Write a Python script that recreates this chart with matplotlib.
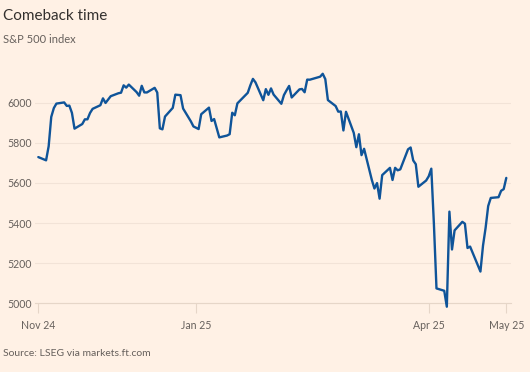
import matplotlib
matplotlib.use("Agg")
import matplotlib.pyplot as plt
import pandas as pd

# S&P 500 daily closes, Nov 2024 - May 2025
dates = [
    "2024-11-01", "2024-11-04", "2024-11-05", "2024-11-06", "2024-11-07", "2024-11-08",
    "2024-11-11", "2024-11-12", "2024-11-13", "2024-11-14", "2024-11-15",
    "2024-11-18", "2024-11-19", "2024-11-20", "2024-11-21", "2024-11-22",
    "2024-11-25", "2024-11-26", "2024-11-27", "2024-11-29",
    "2024-12-02", "2024-12-03", "2024-12-04", "2024-12-05", "2024-12-06",
    "2024-12-09", "2024-12-10", "2024-12-11", "2024-12-12", "2024-12-13",
    "2024-12-16", "2024-12-17", "2024-12-18", "2024-12-19", "2024-12-20",
    "2024-12-23", "2024-12-24", "2024-12-26", "2024-12-27",
    "2024-12-30", "2024-12-31", "2025-01-02", "2025-01-03",
    "2025-01-06", "2025-01-07", "2025-01-08", "2025-01-10",
    "2025-01-13", "2025-01-14", "2025-01-15", "2025-01-16", "2025-01-17",
    "2025-01-21", "2025-01-22", "2025-01-23", "2025-01-24",
    "2025-01-27", "2025-01-28", "2025-01-29", "2025-01-30", "2025-01-31",
    "2025-02-03", "2025-02-04", "2025-02-05", "2025-02-06", "2025-02-07",
    "2025-02-10", "2025-02-11", "2025-02-12", "2025-02-13", "2025-02-14",
    "2025-02-18", "2025-02-19", "2025-02-20", "2025-02-21",
    "2025-02-24", "2025-02-25", "2025-02-26", "2025-02-27", "2025-02-28",
    "2025-03-03", "2025-03-04", "2025-03-05", "2025-03-06", "2025-03-07",
    "2025-03-10", "2025-03-11", "2025-03-12", "2025-03-13", "2025-03-14",
    "2025-03-17", "2025-03-18", "2025-03-19", "2025-03-20", "2025-03-21",
    "2025-03-24", "2025-03-25", "2025-03-26", "2025-03-27", "2025-03-28",
    "2025-03-31", "2025-04-01", "2025-04-02", "2025-04-03", "2025-04-04",
    "2025-04-07", "2025-04-08", "2025-04-09", "2025-04-10", "2025-04-11",
    "2025-04-14", "2025-04-15", "2025-04-16", "2025-04-17",
    "2025-04-21", "2025-04-22", "2025-04-23", "2025-04-24", "2025-04-25",
    "2025-04-28", "2025-04-29", "2025-04-30", "2025-05-01",
]
closes = [
    5728.8, 5712.7, 5782.8, 5929.0, 5973.1, 5995.5,
    6001.4, 5984.0, 5985.4, 5949.2, 5870.6,
    5893.6, 5917.0, 5917.1, 5948.7, 5969.3,
    5987.4, 6021.6, 5998.7, 6032.4,
    6047.2, 6049.9, 6086.5, 6075.1, 6090.3,
    6052.9, 6034.9, 6084.2, 6051.3, 6051.1,
    6074.1, 6050.6, 5872.2, 5867.1, 5930.9,
    5974.1, 6040.0, 6037.6, 5970.8,
    5906.9, 5881.6, 5868.6, 5942.5,
    5975.4, 5909.0, 5918.3, 5827.0,
    5836.2, 5842.9, 5949.9, 5937.3, 5996.7,
    6049.2, 6086.4, 6118.7, 6101.2,
    6012.3, 6067.7, 6039.3, 6071.2, 6040.5,
    5994.6, 6037.9, 6061.5, 6083.6, 6026.0,
    6066.4, 6068.5, 6052.0, 6115.1, 6114.6,
    6129.6, 6144.2, 6117.5, 6013.1,
    5983.3, 5955.3, 5956.1, 5861.6, 5954.5,
    5849.7, 5778.2, 5842.6, 5738.5, 5770.2,
    5614.6, 5572.1, 5599.3, 5521.5, 5638.9,
    5675.1, 5614.7, 5675.3, 5662.9, 5667.6,
    5767.6, 5776.7, 5712.2, 5693.3, 5580.9,
    5611.9, 5633.1, 5671.0, 5396.5, 5074.1,
    5062.3, 4982.8, 5456.9, 5268.1, 5363.4,
    5406.0, 5396.6, 5275.7, 5282.7,
    5158.2, 5287.8, 5375.9, 5484.8, 5525.2,
    5528.8, 5560.8, 5569.1, 5625.0,
]

tick_dates = ["2024-11-01", "2025-01-01", "2025-04-01", "2025-05-01"]
tick_labels = ["Nov 24", "Jan 25", "Apr 25", "May 25"]
y_ticks = [5000, 5200, 5400, 5600, 5800, 6000]

bg = "#FFF1E5"
blue = "#0F5499"
grey = "#66605C"

plt.rcParams["font.family"] = ["Lato", "DejaVu Sans"]

fig = plt.figure(figsize=(5.3, 3.72), dpi=100, facecolor=bg)
ax = fig.add_axes([0.066, 0.1632, 0.898, 0.6524], facecolor=bg)

x = pd.to_datetime(dates)
ax.plot(x, closes, color=blue, lw=1.7, solid_joinstyle="round",
        solid_capstyle="round", zorder=3)

ax.set_xlim(pd.Timestamp("2024-10-30 17:00"), pd.Timestamp("2025-05-02 19:00"))
ax.set_ylim(4960, 6170)

ax.set_yticks(y_ticks)
ax.set_yticklabels([str(v) for v in y_ticks])
ax.set_xticks(pd.to_datetime(tick_dates))
ax.set_xticklabels(tick_labels)

ax.grid(axis="y", color="#F2E3D7", lw=0.8, zorder=0)
for s in ["top", "right", "left"]:
    ax.spines[s].set_visible(False)
ax.spines["bottom"].set_position(("data", 5000))
ax.spines["bottom"].set_color("#E6D6C8")
ax.spines["bottom"].set_linewidth(0.8)

ax.tick_params(axis="x", length=7, width=0.8, color="#E6D6C8", pad=5,
               labelsize=7.6, labelcolor=grey)
ax.tick_params(axis="y", length=0, pad=20, labelsize=7.6, labelcolor=grey)
for lbl in ax.get_yticklabels():
    lbl.set_horizontalalignment("left")

fig.text(0.006, 1 - 20.5 / 372, "Comeback time", fontsize=11, color="#33302E",
         va="baseline", ha="left")
fig.text(0.006, 1 - 42.7 / 372, "S&P 500 index", fontsize=8, color=grey,
         va="baseline", ha="left")
fig.text(0.006, 1 - 355.7 / 372, "Source: LSEG via markets.ft.com", fontsize=7.5,
         color=grey, va="baseline", ha="left")

fig.savefig("out.png", dpi=100, facecolor=bg)
